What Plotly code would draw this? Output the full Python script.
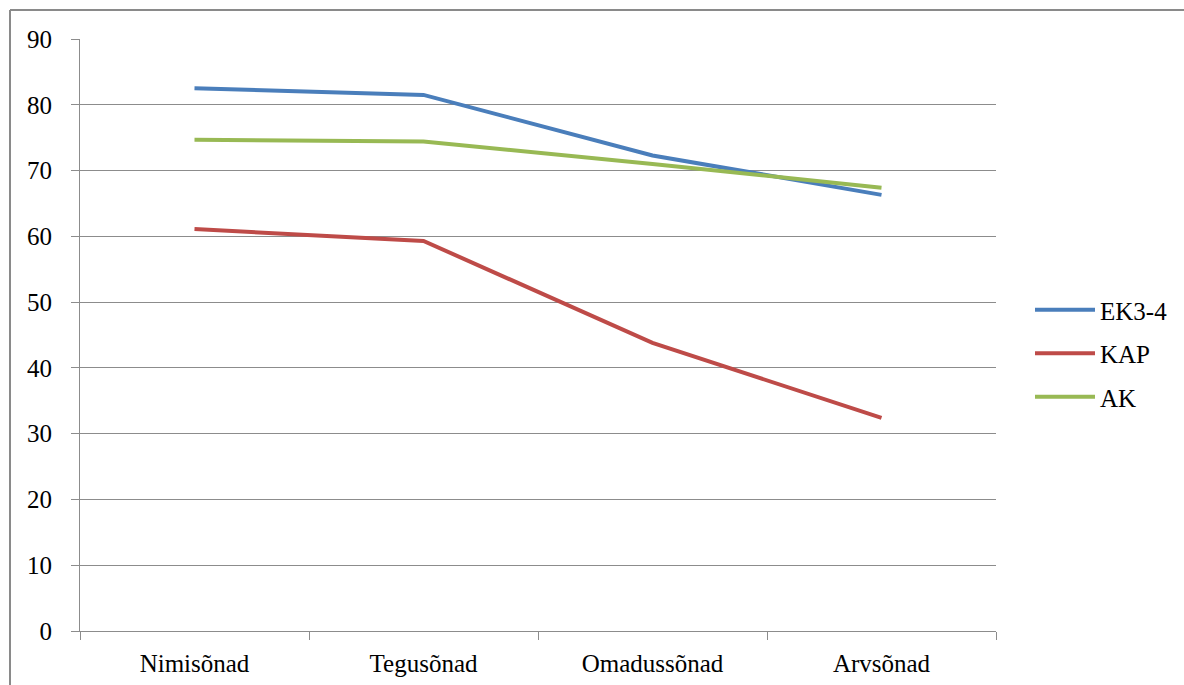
import plotly.graph_objects as go

# Word classes on the category axis
categories = ["Nimisõnad", "Tegusõnad", "Omadussõnad", "Arvsõnad"]

# Share per group (%)
ek34 = [82.5, 81.5, 72.3, 66.3]
kap = [61.1, 59.3, 43.8, 32.4]
ak = [74.7, 74.4, 71.0, 67.4]

series_names = ["EK3-4", "KAP", "AK"]
series_values = [ek34, kap, ak]
series_colors = ["#4A7EBB", "#BE4B48", "#98B954"]

y_ticks = [0, 10, 20, 30, 40, 50, 60, 70, 80, 90]

FONT = "Times New Roman, Liberation Serif, serif"
FS = 25
GRID = "#8C8C8C"

fig = go.Figure()
for name, vals, color in zip(series_names, series_values, series_colors):
    fig.add_trace(go.Scatter(
        x=categories, y=vals, name=name, mode="lines",
        line=dict(color=color, width=4), legendgroup=name,
    ))

L, R, T, B = 80, 188, 39, 54
W, H = 1184, 685
pw, ph = W - L - R, H - T - B

def px_x(p):
    return (p - L) / pw

def px_y(p):
    return 1 - (p - T) / ph

# outer chart-area border (top and left edges visible)
fig.add_shape(type="line", xref="paper", yref="paper",
              x0=px_x(10), x1=px_x(1190), y0=px_y(10), y1=px_y(10),
              line=dict(color="#8A8A8A", width=2))
fig.add_shape(type="line", xref="paper", yref="paper",
              x0=px_x(10), x1=px_x(10), y0=px_y(10), y1=px_y(700),
              line=dict(color="#8A8A8A", width=2))

fig.update_layout(
    width=W, height=H,
    margin=dict(l=L, r=R, t=T, b=B, autoexpand=False),
    paper_bgcolor="white", plot_bgcolor="white",
    font=dict(family=FONT, size=FS, color="#000000"),
    legend=dict(
        x=px_x(1030), y=px_y(287), xanchor="left", yanchor="top",
        font=dict(family=FONT, size=FS, color="#000000"),
        itemwidth=60, tracegroupgap=8, traceorder="grouped",
        bgcolor="rgba(0,0,0,0)",
    ),
    xaxis=dict(
        type="category", range=[-0.5, 3.5], automargin=False,
        tickson="boundaries", ticks="outside", ticklen=8, tickcolor=GRID,
        showgrid=False, showline=True, linecolor=GRID, linewidth=1,
        tickfont=dict(family=FONT, size=FS), ticklabelstandoff=10,
        zeroline=False,
    ),
    yaxis=dict(
        range=[0, 90], tickvals=y_ticks, ticks="outside", ticklen=8,
        automargin=False,
        tickcolor=GRID, showgrid=True, gridcolor=GRID, gridwidth=1,
        showline=True, linecolor=GRID, linewidth=1, zeroline=False,
        tickfont=dict(family=FONT, size=FS), ticklabelstandoff=14,
    ),
)

fig.write_html("out.html")
